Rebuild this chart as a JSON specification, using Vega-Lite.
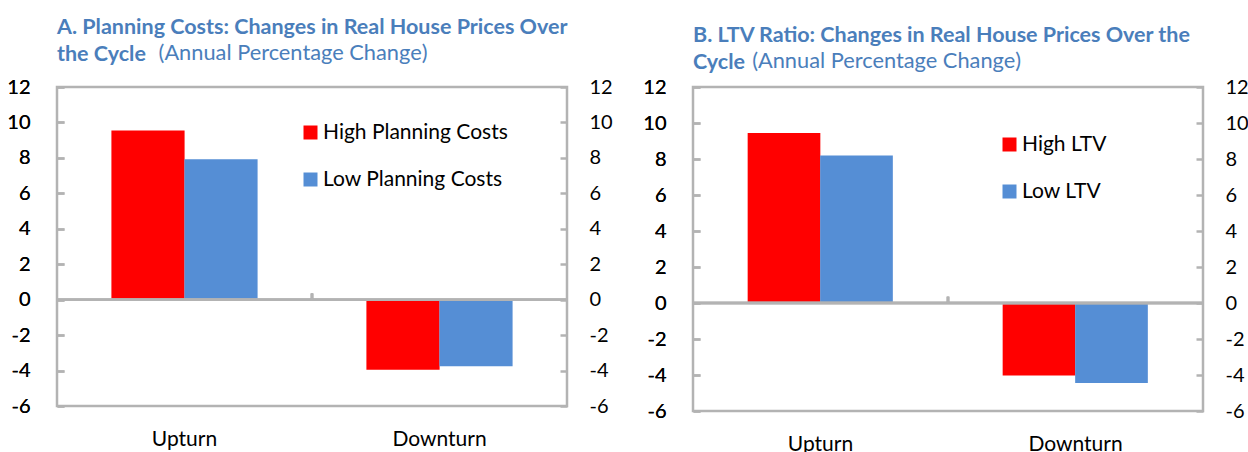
{
  "$schema": "https://vega.github.io/schema/vega-lite/v6.json",
  "padding": {"left": 5, "top": 15, "right": 0, "bottom": 0},
  "spacing": 27,
  "config": {
    "font": "Lato",
    "view": {"stroke": "#b3b3b3", "strokeWidth": 2.5},
    "axis": {"grid": false, "domain": false, "labelFont": "Lato", "labelColor": "#000000", "labelFontSize": 20, "title": null},
    "axisY": {"labelExpr": "'' + datum.value"},
    "title": {"font": "Lato", "fontSize": 21.5, "fontWeight": "bold", "color": "#4A7EBB", "anchor": "start", "frame": "group", "lineHeight": 27, "subtitleFont": "Lato", "subtitleFontSize": 21.8, "subtitleColor": "#4A7EBB", "subtitleFontWeight": "normal", "subtitlePadding": -22},
    "legend": {"orient": "none", "title": null, "symbolType": "square", "symbolSize": 196, "symbolStrokeWidth": 0, "labelFont": "Lato", "labelFontSize": 21, "labelColor": "#000000", "labelLimit": 400, "rowPadding": 25, "labelOffset": 2}
  },
  "resolve": {"scale": {"color": "independent"}, "legend": {"color": "independent"}},
  "hconcat": [
    {
      "width": 510,
      "height": 319,
      "title": {"text": ["A. Planning Costs: Changes in Real House Prices Over", "the Cycle"], "subtitle": "\u2800\u2800\u2800\u2800\u2800\u2800\u00a0(Annual Percentage Change)", "offset": 12},
      "data": {"values": [
        {"phase": "Upturn", "series": "High Planning Costs", "value": 9.55},
        {"phase": "Upturn", "series": "Low Planning Costs", "value": 7.93},
        {"phase": "Downturn", "series": "High Planning Costs", "value": -3.95},
        {"phase": "Downturn", "series": "Low Planning Costs", "value": -3.75}
      ]},
      "resolve": {"axis": {"y": "independent"}},
      "encoding": {
        "x": {"field": "phase", "type": "nominal", "sort": ["Upturn", "Downturn"], "scale": {"paddingInner": 0, "paddingOuter": 0}, "axis": {"labelAngle": 0, "ticks": false, "labelPadding": 22, "labelFontSize": 21}},
        "y": {"field": "value", "type": "quantitative", "scale": {"domain": [-6, 12], "nice": false, "zero": false}, "axis": {"orient": "left", "values": [-6, -4, -2, 0, 2, 4, 6, 8, 10, 12], "tickSize": -7, "tickColor": "#b3b3b3", "tickWidth": 2.5, "labelPadding": 34}},
        "color": {"field": "series", "type": "nominal", "scale": {"domain": ["High Planning Costs", "Low Planning Costs"], "range": ["#FF0000", "#558ED5"]}, "legend": {"legendX": 243, "legendY": 35}}
      },
      "layer": [
        {
          "transform": [{"filter": "datum.series === 'High Planning Costs'"}],
          "mark": {"type": "bar", "width": {"band": 0.287}, "xOffset": -36.5}
        },
        {
          "transform": [{"filter": "datum.series === 'Low Planning Costs'"}],
          "mark": {"type": "bar", "width": {"band": 0.287}, "xOffset": 36.5}
        },
        {
          "mark": {"type": "rule", "color": "#b3b3b3", "strokeWidth": 2.5},
          "encoding": {
            "x": null,
            "color": null,
            "y": {"datum": 0, "type": "quantitative", "axis": {"orient": "right", "values": [-6, -4, -2, 0, 2, 4, 6, 8, 10, 12], "tickSize": -7, "tickColor": "#b3b3b3", "tickWidth": 2.5, "labelPadding": 29}}
          }
        },
        {
          "mark": {"type": "rule", "color": "#b3b3b3", "strokeWidth": 2.5},
          "encoding": {
            "color": null,
            "x": {"datum": "Downturn", "bandPosition": 0},
            "y": {"datum": 0, "type": "quantitative", "axis": null},
            "y2": {"datum": 0.35}
          }
        }
      ]
    },
    {
      "width": 510,
      "height": 324,
      "title": {"text": ["B. LTV Ratio: Changes in Real House Prices Over the", "Cycle"], "subtitle": "\u2800\u2800\u2800\u00a0\u00a0(Annual Percentage Change)", "offset": 4},
      "data": {"values": [
        {"phase": "Upturn", "series": "High LTV", "value": 9.45},
        {"phase": "Upturn", "series": "Low LTV", "value": 8.2},
        {"phase": "Downturn", "series": "High LTV", "value": -4.03},
        {"phase": "Downturn", "series": "Low LTV", "value": -4.45}
      ]},
      "resolve": {"axis": {"y": "independent"}},
      "encoding": {
        "x": {"field": "phase", "type": "nominal", "sort": ["Upturn", "Downturn"], "scale": {"paddingInner": 0, "paddingOuter": 0}, "axis": {"labelAngle": 0, "ticks": false, "labelPadding": 22, "labelFontSize": 21}},
        "y": {"field": "value", "type": "quantitative", "scale": {"domain": [-6, 12], "nice": false, "zero": false}, "axis": {"orient": "left", "values": [-6, -4, -2, 0, 2, 4, 6, 8, 10, 12], "tickSize": -7, "tickColor": "#b3b3b3", "tickWidth": 2.5, "labelPadding": 34}},
        "color": {"field": "series", "type": "nominal", "scale": {"domain": ["High LTV", "Low LTV"], "range": ["#FF0000", "#558ED5"]}, "legend": {"legendX": 306, "legendY": 47}}
      },
      "layer": [
        {
          "transform": [{"filter": "datum.series === 'High LTV'"}],
          "mark": {"type": "bar", "width": {"band": 0.285}, "xOffset": -36.5}
        },
        {
          "transform": [{"filter": "datum.series === 'Low LTV'"}],
          "mark": {"type": "bar", "width": {"band": 0.285}, "xOffset": 36}
        },
        {
          "mark": {"type": "rule", "color": "#b3b3b3", "strokeWidth": 2.5},
          "encoding": {
            "x": null,
            "color": null,
            "y": {"datum": 0, "type": "quantitative", "axis": {"orient": "right", "values": [-6, -4, -2, 0, 2, 4, 6, 8, 10, 12], "tickSize": -7, "tickColor": "#b3b3b3", "tickWidth": 2.5, "labelPadding": 29}}
          }
        },
        {
          "mark": {"type": "rule", "color": "#b3b3b3", "strokeWidth": 2.5},
          "encoding": {
            "color": null,
            "x": {"datum": "Downturn", "bandPosition": 0},
            "y": {"datum": 0, "type": "quantitative", "axis": null},
            "y2": {"datum": 0.35}
          }
        }
      ]
    }
  ]
}
